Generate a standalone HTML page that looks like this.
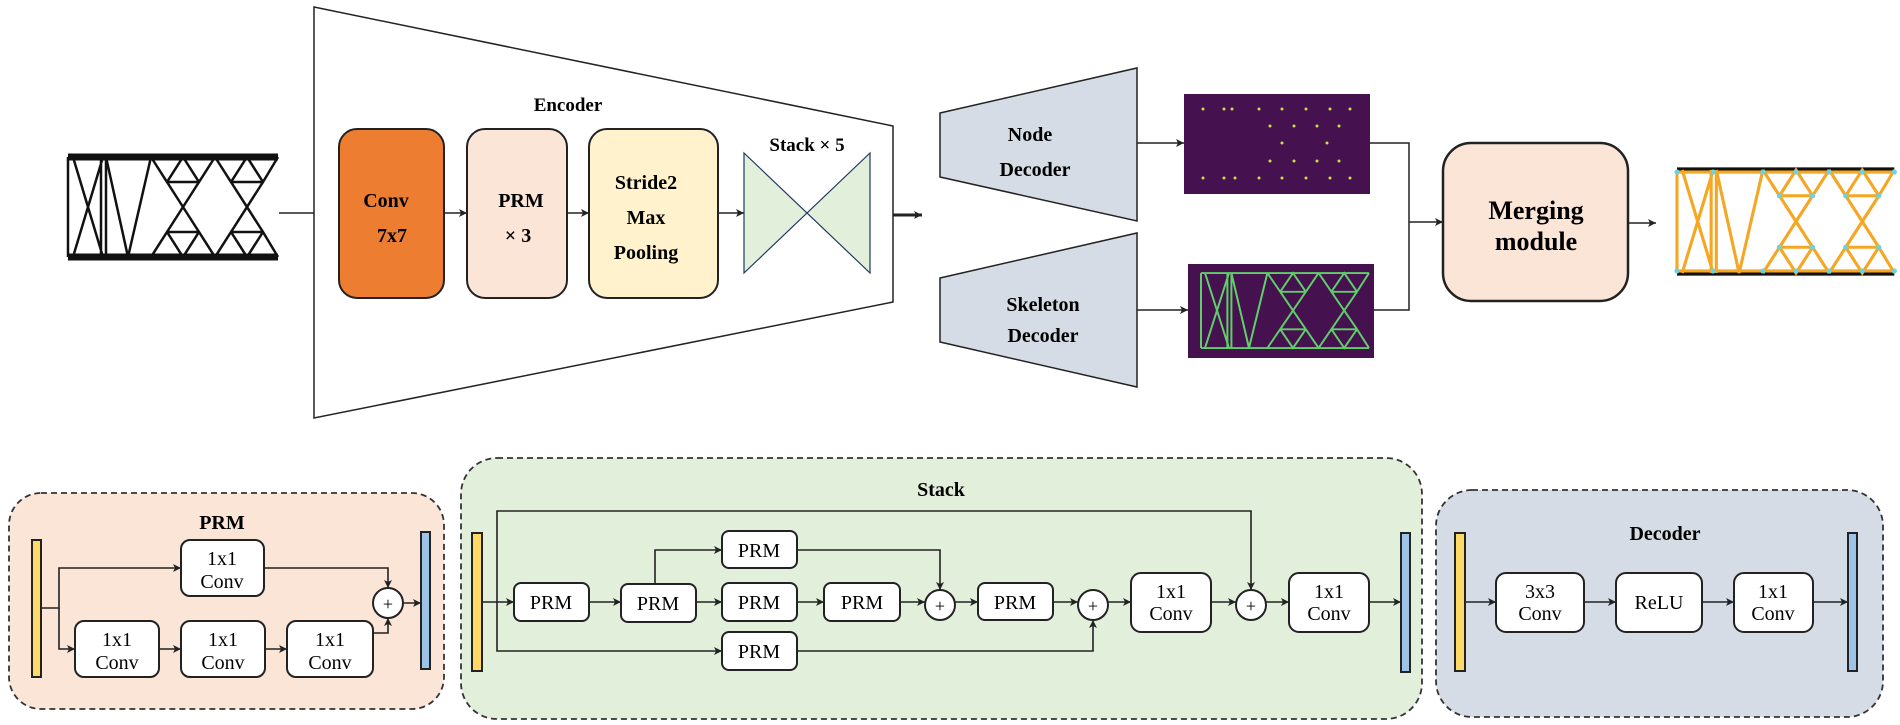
<!DOCTYPE html>
<html><head><meta charset="utf-8"><style>html,body{margin:0;padding:0;background:#fff}svg{display:block}</style></head>
<body>
<svg width="1900" height="725" viewBox="0 0 1900 725" xmlns="http://www.w3.org/2000/svg" font-family="'Liberation Serif', serif">
<defs>
<marker id="a" markerUnits="userSpaceOnUse" markerWidth="9" markerHeight="8" refX="8" refY="4" orient="auto"><path d="M0,0 L8,4 L0,8 L2,4 z" fill="#222"/></marker>
<g id="truss" fill="none">
<path d="M0 0V100M5 0L35 100M35 0L5 100M33 0V100M38 0V100M38 0L60 100L83 0"/>
<path d="M83 0L99 25L115 0L131 25L147 0M99 25H131M99 25L131 75M131 25L99 75M83 100L99 75L115 100L131 75L147 100M99 75H131"/>
<path d="M147 0L163 25L179 0L195 25L210 0M163 25H195M163 25L195 75M195 25L163 75M147 100L163 75L179 100L195 75L210 100M163 75H195"/>
</g>
</defs>

<!-- input truss -->
<g stroke="#111" stroke-width="2.5" transform="translate(68,157)">
<use href="#truss"/>
<path d="M0 0H210M0 100H210" stroke-width="7"/>
</g>
<line x1="279" y1="213" x2="338" y2="213" stroke="#222" stroke-width="1.5" marker-end="url(#a)"/>

<!-- encoder -->
<polygon points="314,7 893,126 893,302 314,418" fill="#fff" stroke="#222" stroke-width="1.5"/>
<text x="568" y="111" font-size="19" font-weight="bold" text-anchor="middle">Encoder</text>
<rect x="339" y="129" width="105" height="169" rx="18" fill="#ED7D31" stroke="#222" stroke-width="2"/>
<text x="386" y="207" font-size="20" font-weight="bold" text-anchor="middle">Conv</text>
<text x="392" y="242" font-size="20" font-weight="bold" text-anchor="middle">7x7</text>
<rect x="467" y="129" width="100" height="169" rx="18" fill="#FBE5D6" stroke="#222" stroke-width="2"/>
<text x="521" y="207" font-size="20" font-weight="bold" text-anchor="middle">PRM</text>
<text x="518" y="242" font-size="20" font-weight="bold" text-anchor="middle">× 3</text>
<rect x="589" y="129" width="129" height="169" rx="18" fill="#FFF2CC" stroke="#222" stroke-width="2"/>
<text x="646" y="189" font-size="20" font-weight="bold" text-anchor="middle">Stride2</text>
<text x="646" y="224" font-size="20" font-weight="bold" text-anchor="middle">Max</text>
<text x="646" y="259" font-size="20" font-weight="bold" text-anchor="middle">Pooling</text>
<polygon points="744,153 870,273 870,153 744,273" fill="#E2EFDA" stroke="#1F3864" stroke-width="1.2"/>
<text x="807" y="151" font-size="19" font-weight="bold" text-anchor="middle">Stack  ×  5</text>
<g stroke="#222" stroke-width="1.5" marker-end="url(#a)">
<line x1="444" y1="213" x2="467" y2="213"/><line x1="567" y1="213" x2="589" y2="213"/><line x1="718" y1="213" x2="744" y2="213"/>
</g>
<line x1="893" y1="215" x2="922" y2="215" stroke="#222" stroke-width="3" marker-end="url(#a)"/>

<!-- decoders -->
<polygon points="940,113 1137,68 1137,221 940,177" fill="#D6DCE5" stroke="#222" stroke-width="1.5"/>
<text x="1030" y="141" font-size="20" font-weight="bold" text-anchor="middle">Node</text>
<text x="1035" y="176" font-size="20" font-weight="bold" text-anchor="middle">Decoder</text>
<polygon points="940,278 1137,233 1137,387 940,342" fill="#D6DCE5" stroke="#222" stroke-width="1.5"/>
<text x="1043" y="311" font-size="20" font-weight="bold" text-anchor="middle">Skeleton</text>
<text x="1043" y="342" font-size="20" font-weight="bold" text-anchor="middle">Decoder</text>

<!-- node image -->
<rect x="1184" y="94" width="186" height="100" fill="#45114F"/>
<g fill="#C8E04A">
<circle cx="1203" cy="109" r="1.5"/><circle cx="1224" cy="109" r="1.5"/><circle cx="1232" cy="109" r="1.5"/><circle cx="1259" cy="109" r="1.5"/><circle cx="1282" cy="109" r="1.5"/><circle cx="1306" cy="109" r="1.5"/><circle cx="1330" cy="109" r="1.5"/><circle cx="1350" cy="109" r="1.5"/>
<circle cx="1270" cy="126" r="1.5"/><circle cx="1294" cy="126" r="1.5"/><circle cx="1317" cy="126" r="1.5"/><circle cx="1339" cy="126" r="1.5"/>
<circle cx="1282" cy="143" r="1.5"/><circle cx="1327" cy="143" r="1.5"/>
<circle cx="1270" cy="161" r="1.5"/><circle cx="1294" cy="161" r="1.5"/><circle cx="1317" cy="161" r="1.5"/><circle cx="1339" cy="161" r="1.5"/>
<circle cx="1203" cy="178" r="1.5"/><circle cx="1224" cy="178" r="1.5"/><circle cx="1235" cy="178" r="1.5"/><circle cx="1259" cy="178" r="1.5"/><circle cx="1282" cy="178" r="1.5"/><circle cx="1306" cy="178" r="1.5"/><circle cx="1330" cy="178" r="1.5"/><circle cx="1350" cy="178" r="1.5"/>
</g>
<!-- skeleton image -->
<rect x="1188" y="264" width="186" height="94" fill="#45114F"/>
<g stroke="#5FD068" stroke-width="2.5" transform="translate(1201,273) scale(0.8,0.75)">
<use href="#truss"/><path d="M0 0H210M0 100H210"/>
</g>

<g stroke="#222" stroke-width="1.5" fill="none">
<line x1="1137" y1="143" x2="1184" y2="143" marker-end="url(#a)"/>
<line x1="1137" y1="310" x2="1188" y2="310" marker-end="url(#a)"/>
<polyline points="1370,143 1409,143 1409,310 1374,310"/>
<line x1="1409" y1="222" x2="1443" y2="222" marker-end="url(#a)"/>
<line x1="1628" y1="223" x2="1656" y2="223" marker-end="url(#a)"/>
</g>
<rect x="1443" y="143" width="185" height="158" rx="28" fill="#FBE5D6" stroke="#222" stroke-width="2.5"/>
<text x="1536" y="219" font-size="26" font-weight="bold" text-anchor="middle">Merging</text>
<text x="1536" y="250" font-size="26" font-weight="bold" text-anchor="middle">module</text>

<!-- output truss -->
<g transform="translate(1677,170) scale(1.035,1.03)">
<path d="M0 0H210M0 100H210" stroke="#111" stroke-width="5" fill="none"/>
<g stroke="#F5A623" stroke-width="3"><use href="#truss"/><path d="M0 2H210M0 98H210"/></g>
<g fill="#6FD0E0"><circle cx="0" cy="2" r="2.5"/><circle cx="35" cy="2" r="2.5"/><circle cx="83" cy="2" r="2.5"/><circle cx="115" cy="2" r="2.5"/><circle cx="147" cy="2" r="2.5"/><circle cx="179" cy="2" r="2.5"/><circle cx="210" cy="2" r="2.5"/><circle cx="0" cy="98" r="2.5"/><circle cx="35" cy="98" r="2.5"/><circle cx="83" cy="98" r="2.5"/><circle cx="115" cy="98" r="2.5"/><circle cx="147" cy="98" r="2.5"/><circle cx="179" cy="98" r="2.5"/><circle cx="210" cy="98" r="2.5"/><circle cx="99" cy="25" r="2.5"/><circle cx="131" cy="25" r="2.5"/><circle cx="163" cy="25" r="2.5"/><circle cx="195" cy="25" r="2.5"/><circle cx="99" cy="75" r="2.5"/><circle cx="131" cy="75" r="2.5"/><circle cx="163" cy="75" r="2.5"/><circle cx="195" cy="75" r="2.5"/></g>
</g>

<!-- PRM panel -->
<rect x="9" y="493" width="435" height="216" rx="32" fill="#FBE5D6" stroke="#333" stroke-width="1.8" stroke-dasharray="6,4"/>
<text x="222" y="529" font-size="20" font-weight="bold" text-anchor="middle">PRM</text>
<rect x="32" y="540" width="9" height="137" fill="#FFD966" stroke="#222" stroke-width="2"/>
<rect x="421" y="532" width="9" height="137" fill="#9DC3E6" stroke="#222" stroke-width="2"/>
<g fill="#fff" stroke="#222" stroke-width="2">
<rect x="181" y="540" width="83" height="56" rx="9"/>
<rect x="75" y="621" width="84" height="56" rx="9"/>
<rect x="181" y="621" width="84" height="56" rx="9"/>
<rect x="287" y="621" width="86" height="56" rx="9"/>
<circle cx="388" cy="603" r="15"/>
</g>
<g font-size="20" text-anchor="middle">
<text x="222" y="565">1x1</text><text x="222" y="588">Conv</text>
<text x="117" y="646">1x1</text><text x="117" y="669">Conv</text>
<text x="223" y="646">1x1</text><text x="223" y="669">Conv</text>
<text x="330" y="646">1x1</text><text x="330" y="669">Conv</text>
<text x="388" y="610" font-size="18">+</text>
</g>
<g stroke="#222" stroke-width="1.6" fill="none">
<polyline points="41,608 59,608 59,568 181,568" marker-end="url(#a)"/>
<polyline points="59,608 59,649 75,649" marker-end="url(#a)"/>
<line x1="159" y1="649" x2="181" y2="649" marker-end="url(#a)"/>
<line x1="265" y1="649" x2="287" y2="649" marker-end="url(#a)"/>
<polyline points="264,568 388,568 388,588" marker-end="url(#a)"/>
<polyline points="373,633 388,633 388,618" marker-end="url(#a)"/>
<line x1="403" y1="603" x2="421" y2="603" marker-end="url(#a)"/>
</g>

<!-- Stack panel -->
<rect x="461" y="458" width="961" height="261" rx="36" fill="#E2EFDA" stroke="#333" stroke-width="1.8" stroke-dasharray="6,4"/>
<text x="941" y="496" font-size="20" font-weight="bold" text-anchor="middle">Stack</text>
<rect x="472" y="533" width="10" height="138" fill="#FFD966" stroke="#222" stroke-width="2"/>
<rect x="1401" y="533" width="9" height="139" fill="#9DC3E6" stroke="#222" stroke-width="2"/>
<g stroke="#222" stroke-width="1.6" fill="none">
<polyline points="497,602 497,511 1251,511 1251,590" marker-end="url(#a)"/>
<polyline points="497,602 497,651 722,651" marker-end="url(#a)"/>
<polyline points="797,651 1093,651 1093,620" marker-end="url(#a)"/>
<polyline points="655,583 655,550 722,550" marker-end="url(#a)"/>
<polyline points="797,550 940,550 940,590" marker-end="url(#a)"/>
<line x1="482" y1="602" x2="514" y2="602" marker-end="url(#a)"/>
<line x1="589" y1="602" x2="621" y2="602" marker-end="url(#a)"/>
<line x1="696" y1="602" x2="722" y2="602" marker-end="url(#a)"/>
<line x1="797" y1="602" x2="824" y2="602" marker-end="url(#a)"/>
<line x1="900" y1="602" x2="925" y2="602" marker-end="url(#a)"/>
<line x1="955" y1="602" x2="978" y2="602" marker-end="url(#a)"/>
<line x1="1053" y1="602" x2="1078" y2="602" marker-end="url(#a)"/>
<line x1="1108" y1="602" x2="1131" y2="602" marker-end="url(#a)"/>
<line x1="1211" y1="602" x2="1236" y2="602" marker-end="url(#a)"/>
<line x1="1266" y1="602" x2="1289" y2="602" marker-end="url(#a)"/>
<line x1="1369" y1="602" x2="1401" y2="602" marker-end="url(#a)"/>
</g>
<g fill="#fff" stroke="#222" stroke-width="2">
<rect x="514" y="583" width="75" height="38" rx="7"/>
<rect x="621" y="584" width="75" height="38" rx="7"/>
<rect x="722" y="531" width="75" height="37" rx="7"/>
<rect x="722" y="583" width="75" height="38" rx="7"/>
<rect x="824" y="583" width="76" height="38" rx="7"/>
<rect x="722" y="632" width="75" height="38" rx="7"/>
<rect x="978" y="583" width="75" height="37" rx="7"/>
<rect x="1131" y="573" width="80" height="59" rx="10"/>
<rect x="1289" y="573" width="80" height="59" rx="10"/>
<circle cx="940" cy="605" r="15"/><circle cx="1093" cy="605" r="15"/><circle cx="1251" cy="605" r="15"/>
</g>
<g font-size="20" text-anchor="middle">
<text x="551" y="609">PRM</text><text x="658" y="610">PRM</text><text x="759" y="557">PRM</text>
<text x="759" y="609">PRM</text><text x="862" y="609">PRM</text><text x="759" y="658">PRM</text>
<text x="1015" y="609">PRM</text>
<text x="1171" y="598">1x1</text><text x="1171" y="620">Conv</text>
<text x="1329" y="598">1x1</text><text x="1329" y="620">Conv</text>
<text x="940" y="612" font-size="18">+</text><text x="1093" y="612" font-size="18">+</text><text x="1251" y="612" font-size="18">+</text>
</g>

<!-- Decoder panel -->
<rect x="1436" y="490" width="447" height="227" rx="36" fill="#D6DCE5" stroke="#333" stroke-width="1.8" stroke-dasharray="6,4"/>
<text x="1665" y="540" font-size="20" font-weight="bold" text-anchor="middle">Decoder</text>
<rect x="1455" y="533" width="10" height="138" fill="#FFD966" stroke="#222" stroke-width="2"/>
<rect x="1848" y="533" width="9" height="138" fill="#9DC3E6" stroke="#222" stroke-width="2"/>
<g fill="#fff" stroke="#222" stroke-width="2">
<rect x="1496" y="573" width="88" height="59" rx="10"/>
<rect x="1616" y="573" width="86" height="59" rx="10"/>
<rect x="1734" y="573" width="79" height="59" rx="10"/>
</g>
<g font-size="20" text-anchor="middle">
<text x="1540" y="598">3x3</text><text x="1540" y="620">Conv</text>
<text x="1659" y="609">ReLU</text>
<text x="1773" y="598">1x1</text><text x="1773" y="620">Conv</text>
</g>
<g stroke="#222" stroke-width="1.6">
<line x1="1465" y1="602" x2="1496" y2="602" marker-end="url(#a)"/>
<line x1="1584" y1="602" x2="1616" y2="602" marker-end="url(#a)"/>
<line x1="1702" y1="602" x2="1734" y2="602" marker-end="url(#a)"/>
<line x1="1813" y1="602" x2="1848" y2="602" marker-end="url(#a)"/>
</g>
</svg>
</body></html>
